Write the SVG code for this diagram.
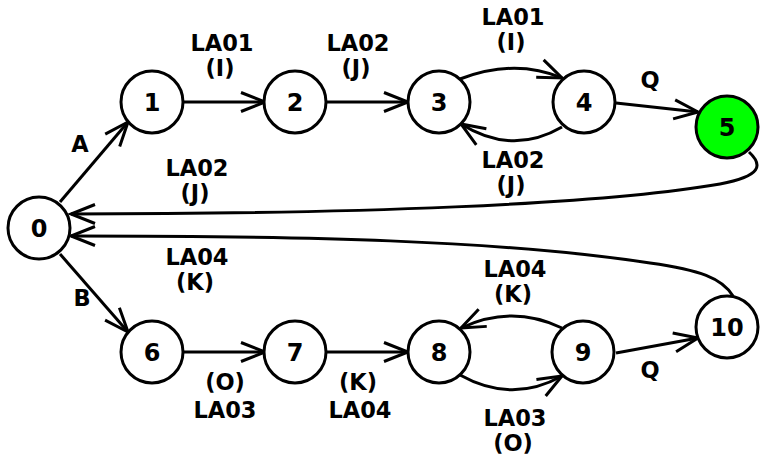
<svg xmlns="http://www.w3.org/2000/svg" width="774" height="459" viewBox="0 0 774 459">
<style>
text{font-family:"DejaVu Sans",sans-serif;font-weight:bold;font-size:22.5px;fill:#000;text-anchor:middle}
.n text{font-size:24px}
.n circle{fill:#fff;stroke:#000;stroke-width:3}
#n5 circle{fill:#00ff00}
#edges path{fill:none;stroke:#000;stroke-width:3;marker-end:url(#ah)}
</style>
<defs>
<marker id="ah" markerUnits="userSpaceOnUse" markerWidth="30" markerHeight="24" refX="25" refY="10" orient="auto" overflow="visible">
<path d="M1,0.5 L25,10 L1,19.5" fill="none" stroke="#000" stroke-width="3"/>
</marker>
</defs>
<g id="edges">
<path d="M60,202 L128,122"/>
<path d="M183,102 L265,102"/>
<path d="M326,102 L408,102"/>
<path d="M460,79 Q515,58 562,78"/>
<path d="M562,127 Q512,156 461,124"/>
<path d="M616,103 L698,112"/>
<path d="M749,152 C763,165 762,176 720,184 C600,205 350,214 71,214"/>
<path d="M733,296 C722,278 700,270 650,263 C500,240 300,236 71,236"/>
<path d="M60,254 L128,332"/>
<path d="M183,352 L265,352"/>
<path d="M326,352 L408,352"/>
<path d="M562,328 Q512,304 461,328"/>
<path d="M460,375 Q512,404 562,376"/>
<path d="M616,353 L698,338"/>
</g>
<g id="labels">
<text x="80" y="152">A</text>
<text x="222" y="51">LA01</text><text x="220" y="76">(I)</text>
<text x="358" y="51">LA02</text><text x="356" y="76">(J)</text>
<text x="513" y="25">LA01</text><text x="511" y="50">(I)</text>
<text x="650" y="88">Q</text>
<text x="513" y="168">LA02</text><text x="511" y="193">(J)</text>
<text x="197" y="176">LA02</text><text x="195" y="201">(J)</text>
<text x="197" y="265">LA04</text><text x="195" y="290">(K)</text>
<text x="82" y="306">B</text>
<text x="225" y="390">(O)</text><text x="225" y="418">LA03</text>
<text x="358" y="390">(K)</text><text x="360" y="418">LA04</text>
<text x="515" y="277">LA04</text><text x="513" y="302">(K)</text>
<text x="515" y="426">LA03</text><text x="513" y="451">(O)</text>
<text x="650" y="378">Q</text>
</g>
<g id="n0" class="n"><circle cx="39" cy="228" r="31"/><text x="39" y="237">0</text></g>
<g id="n1" class="n"><circle cx="152" cy="102" r="31"/><text x="152" y="111">1</text></g>
<g id="n2" class="n"><circle cx="295" cy="102" r="31"/><text x="295" y="111">2</text></g>
<g id="n3" class="n"><circle cx="439" cy="102" r="31"/><text x="439" y="111">3</text></g>
<g id="n4" class="n"><circle cx="584" cy="102" r="31"/><text x="584" y="111">4</text></g>
<g id="n5" class="n"><circle cx="727" cy="127" r="31"/><text x="727" y="136">5</text></g>
<g id="n6" class="n"><circle cx="152" cy="352" r="31"/><text x="152" y="361">6</text></g>
<g id="n7" class="n"><circle cx="295" cy="352" r="31"/><text x="295" y="361">7</text></g>
<g id="n8" class="n"><circle cx="439" cy="352" r="31"/><text x="439" y="361">8</text></g>
<g id="n9" class="n"><circle cx="583" cy="352" r="31"/><text x="583" y="361">9</text></g>
<g id="n10" class="n"><circle cx="727" cy="327" r="31"/><text x="727" y="336">10</text></g>
</svg>
